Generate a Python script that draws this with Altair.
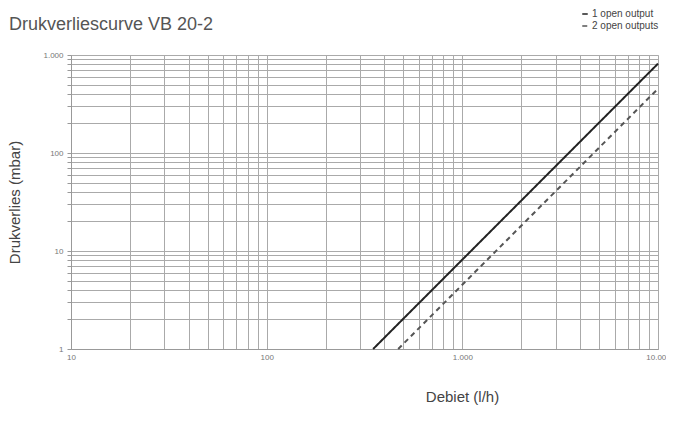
import altair as alt
import pandas as pd

# data
series = ["1 open output", "1 open output", "2 open outputs", "2 open outputs"]
flow = [350, 10000, 470, 10000]          # Debiet (l/h)
dp = [1, 816, 1, 453]                   # Drukverlies (mbar)

x_grid = [m * 10 ** e for e in (1, 2, 3) for m in range(1, 10)] + [10000]
y_grid = [m * 10 ** e for e in (0, 1, 2) for m in range(1, 10)] + [1000]

df = pd.DataFrame({"series": series, "flow": flow, "dp": dp})

label_expr = "replace(format(datum.value, ',d'), ',', '.')"
x_label = "(abs(log(datum.value)/LN10 - round(log(datum.value)/LN10)) < 0.001) ? " + label_expr + " : ''"

chart = alt.Chart(df).mark_line(strokeWidth=2).encode(
    x=alt.X("flow:Q", scale=alt.Scale(type="log", domain=[10, 10000], nice=False),
            axis=alt.Axis(values=x_grid, labelExpr=x_label, title="Debiet (l/h)",
                          titleX=391, titleY=40, titleAlign="center",
                          titleFontSize=15, titleFontWeight="normal", titleColor="#444",
                          labelFontSize=8, labelColor="#777", labelPadding=4,
                          tickSize=0, gridColor="#aaa", gridOpacity=1,
                          domainColor="#999", labelFlush=False)),
    y=alt.Y("dp:Q", scale=alt.Scale(type="log", domain=[1, 1000], nice=False),
            axis=alt.Axis(values=y_grid, labelExpr=x_label, title="Drukverlies (mbar)",
                          titleFontSize=15, titleFontWeight="normal", titleColor="#444",
                          titlePadding=20,
                          labelFontSize=8, labelColor="#777", labelPadding=4,
                          tickSize=4, tickColor="#999", gridColor="#aaa", gridOpacity=1,
                          domainColor="#999")),
    color=alt.Color("series:N", scale=alt.Scale(domain=["1 open output", "2 open outputs"],
                                                 range=["#222222", "#555555"]),
                    legend=alt.Legend(title=None, orient="none", legendX=509, legendY=-46,
                                      symbolType="stroke", symbolSize=30, symbolStrokeWidth=1.5,
                                      labelFontSize=10, labelColor="#444", rowPadding=2,
                                      symbolOffset=0, labelOffset=2)),
    strokeDash=alt.StrokeDash("series:N", scale=alt.Scale(domain=["1 open output", "2 open outputs"],
                                                           range=[[1, 0], [5, 4]]),
                              legend=None),
    detail="series:N",
).properties(
    width=587, height=294,
    title=alt.Title("Drukverliescurve VB 20-2", anchor="start", dx=1, offset=-25,
                    fontSize=18, fontWeight="normal", color="#555"),
    padding={"left": 63, "top": 47, "right": 8, "bottom": 60},
    autosize="none",
).configure_view(stroke="#999", strokeWidth=1).configure(font="Liberation Sans")

chart.save("out.html", embed_options={"renderer": "svg", "actions": False})
